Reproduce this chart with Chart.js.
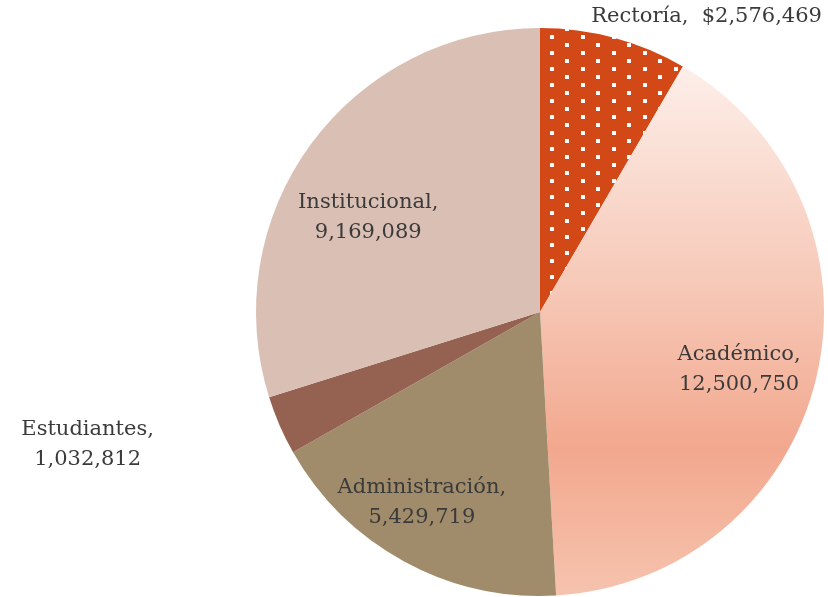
<!DOCTYPE html>
<html>
<head>
<meta charset="utf-8">
<script src="https://cdn.jsdelivr.net/npm/chart.js@4.4.1/dist/chart.umd.min.js"></script>
<style>
  html, body { margin: 0; padding: 0; background: #fff; }
  #wrap { width: 828px; height: 597px; }
</style>
</head>
<body>
<div id="wrap"><canvas id="pie" width="828" height="597"></canvas></div>
<script>
const categories = ['Rectoría', 'Académico', 'Administración', 'Estudiantes', 'Institucional'];
const amounts = [2576469, 12500750, 5429719, 1032812, 9169089];
const valuePrefix = ['$', '', '', '', ''];

// dotted fill for Rectoría
function dotPattern(ctx) {
    const tile = document.createElement('canvas');
    tile.width = 31;
    tile.height = 16;
    const t = tile.getContext('2d');
    t.fillStyle = '#D34817';
    t.fillRect(0, 0, 31, 16);
    t.fillStyle = '#ffffff';
    t.fillRect(23, 3, 4, 4);
    t.fillRect(7, 11, 4, 4);
    return ctx.createPattern(tile, 'repeat');
}

function academicoGradient(chart) {
    const area = chart.chartArea;
    if (!area) return '#F4B49C';
    const g = chart.ctx.createLinearGradient(0, area.top, 0, area.bottom);
    g.addColorStop(0.0, '#FFF8F6');
    g.addColorStop(0.07, '#FDEEE9');
    g.addColorStop(0.48, '#F6C6B4');
    g.addColorStop(0.74, '#F2A88E');
    g.addColorStop(1.0, '#F6C3AE');
    return g;
}

const sliceLabels = {
    id: 'sliceLabels',
    afterDatasetsDraw(chart, args, opts) {
        const ctx = chart.ctx;
        const meta = chart.getDatasetMeta(0);
        ctx.save();
        ctx.font = opts.font;
        ctx.fillStyle = opts.color;
        ctx.textAlign = 'center';
        ctx.textBaseline = 'middle';
        meta.data.forEach((arc, i) => {
            const p = arc.getProps(['x', 'y', 'startAngle', 'endAngle', 'outerRadius'], true);
            const place = opts.placement[i];
            const a = (p.startAngle + p.endAngle) / 2 + place.turn * Math.PI / 180;
            const r = p.outerRadius * place.factor;
            const cx = p.x + Math.cos(a) * r;
            const cy = p.y + Math.sin(a) * r;
            const value = valuePrefix[i] + amounts[i].toLocaleString('en-US');
            if (place.oneLine) {
                ctx.fillText(categories[i] + ',  ' + value, cx, cy);
            } else {
                ctx.fillText(categories[i] + ',', cx, cy - opts.lineHeight / 2);
                ctx.fillText(value, cx, cy + opts.lineHeight / 2);
            }
        });
        ctx.restore();
    }
};

const canvas = document.getElementById('pie');
const pieChart = new Chart(canvas, {
    type: 'pie',
    data: {
        labels: categories,
        datasets: [{
            data: amounts,
            backgroundColor: (c) => {
                const i = c.dataIndex;
                if (i === 0) return dotPattern(c.chart.ctx);
                if (i === 1) return academicoGradient(c.chart);
                return ['', '', '#A08B6A', '#956251', '#D9BFB4'][i];
            },
            borderWidth: 0
        }]
    },
    options: {
        responsive: false,
        devicePixelRatio: 1,
        animation: false,
        layout: { padding: { left: 256, right: 4, top: 28, bottom: 1 } },
        plugins: {
            legend: { display: false },
            tooltip: { enabled: false },
            sliceLabels: {
                font: '21px "DejaVu Serif"',
                color: '#3a3a3a',
                lineHeight: 30,
                placement: [
                    { turn: 14.3, factor: 1.195, oneLine: true },
                    { turn: 2.7, factor: 0.73 },
                    { turn: 3.2, factor: 0.79 },
                    { turn: 7.2, factor: 1.66 },
                    { turn: -7.5, factor: 0.69 }
                ]
            }
        }
    },
    plugins: [sliceLabels]
});
</script>
</body>
</html>
